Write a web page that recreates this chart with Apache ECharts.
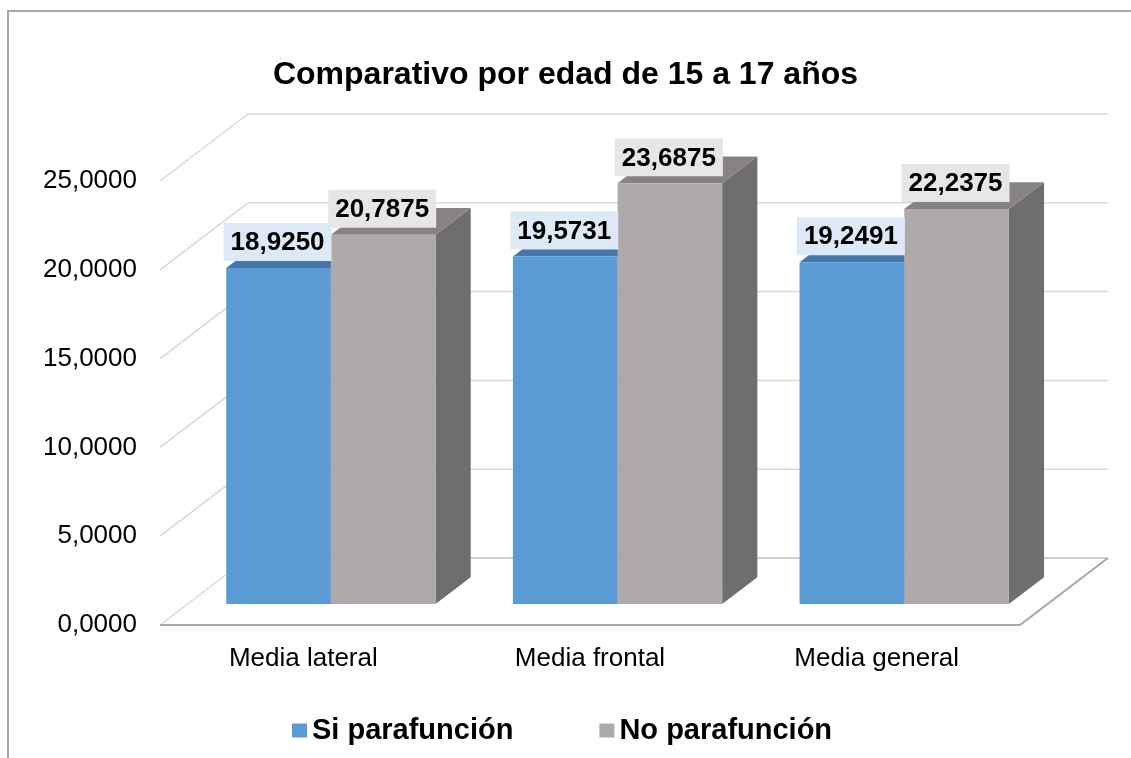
<!DOCTYPE html>
<html>
<head>
<meta charset="utf-8">
<script src="https://cdn.jsdelivr.net/npm/echarts@6/dist/echarts.min.js"></script>
<style>
html,body{margin:0;padding:0;background:#fff;}
#chart{width:1131px;height:758px;}
</style>
</head>
<body>
<div id="chart"></div>
<script>
const categories = ['Media lateral', 'Media frontal', 'Media general'];
const siValues = [18.9250, 19.5731, 19.2491];
const noValues = [20.7875, 23.6875, 22.2375];
const seriesNames = ['Si parafunción', 'No parafunción'];
const yTicks = [0, 5, 10, 15, 20, 25];
const titleText = 'Comparativo por edad de 15 a 17 años';

const FONT = '"Liberation Sans", Arial, sans-serif';
// oblique depth vector (pixels) for the full depth of the plot box
const DEPTH = [88, -67];
const BAR_T0 = 0.313;   // depth fraction of bar front faces
const BAR_DT = 0.40;    // depth fraction of bar thickness
const BAR_GAP = 0.135;  // in category units
const BAR_W = 0.365;

const fmt = v => v.toFixed(4).replace('.', ',');

function shift(p, t) { return [p[0] + DEPTH[0] * t, p[1] + DEPTH[1] * t]; }

function frameRender(params, api) {
  const children = [];
  const n = categories.length;
  yTicks.forEach(v => {
    const a = api.coord([0, v]);
    const b = api.coord([n, v]);
    if (v === 0) {
      const pts = [a, b, shift(b, 1), shift(a, 1)];
      children.push({ type: 'polygon', shape: { points: pts }, style: { fill: '#fff', stroke: null } });
      children.push({ type: 'line', shape: { x1: a[0], y1: a[1], x2: shift(a,1)[0], y2: shift(a,1)[1] }, style: { stroke: '#d9d9d9', lineWidth: 1.5 } });
      children.push({ type: 'line', shape: { x1: shift(a,1)[0], y1: shift(a,1)[1], x2: shift(b,1)[0], y2: shift(b,1)[1] }, style: { stroke: '#bfbfbf', lineWidth: 1.5 } });
      children.push({ type: 'line', shape: { x1: a[0], y1: a[1], x2: b[0], y2: b[1] }, style: { stroke: '#a6a6a6', lineWidth: 2 } });
      children.push({ type: 'line', shape: { x1: b[0], y1: b[1], x2: shift(b,1)[0], y2: shift(b,1)[1] }, style: { stroke: '#a6a6a6', lineWidth: 2 } });
    } else {
      const a1 = shift(a, 1), b1 = shift(b, 1);
      children.push({ type: 'line', shape: { x1: a[0], y1: a[1], x2: a1[0], y2: a1[1] }, style: { stroke: '#d9d9d9', lineWidth: 1.5 } });
      children.push({ type: 'line', shape: { x1: a1[0], y1: a1[1], x2: b1[0], y2: b1[1] }, style: { stroke: '#d9d9d9', lineWidth: 1.5 } });
    }
  });
  return { type: 'group', children };
}

function makeBarRender(sIdx, colors, labelBg) {
  return function (params, api) {
    const i = api.value(0);
    const v = api.value(1);
    const x0 = i + BAR_GAP + sIdx * BAR_W;
    const x1 = x0 + BAR_W;
    const t0 = BAR_T0, t1 = BAR_T0 + BAR_DT;
    const b0 = shift(api.coord([x0, 0]), t0);
    const b1 = shift(api.coord([x1, 0]), t0);
    const u0 = shift(api.coord([x0, v]), t0);
    const u1 = shift(api.coord([x1, v]), t0);
    const bb1 = shift(api.coord([x1, 0]), t1);
    const ub0 = shift(api.coord([x0, v]), t1);
    const ub1 = shift(api.coord([x1, v]), t1);
    return {
      type: 'group',
      children: [
        { type: 'polygon', shape: { points: [b1, bb1, ub1, u1] }, style: { fill: colors.side } },
        { type: 'polygon', shape: { points: [u0, u1, ub1, ub0] }, style: { fill: colors.top } },
        { type: 'polygon', shape: { points: [b0, b1, u1, u0] }, style: { fill: colors.front } },
        {
          type: 'text', z2: 100,
          style: {
            text: fmt(v), x: (u0[0] + u1[0]) / 2 - 1, y: u0[1] - 7,
            align: 'center', verticalAlign: 'bottom',
            font: 'bold 26px ' + FONT, fill: '#000',
            backgroundColor: labelBg, padding: [7, 7, 5, 7]
          }
        }
      ]
    };
  };
}

const siColors = { front: '#5b9bd5', top: '#4576a8', side: '#41719c' };
const noColors = { front: '#aeaaaa', top: '#878383', side: '#706d6d' };

const chart = echarts.init(document.getElementById('chart'));
chart.setOption({
  animation: false,
  backgroundColor: '#fff',
  title: {
    text: titleText, left: 'center', top: 54,
    textStyle: { fontFamily: FONT, fontSize: 32, fontWeight: 'bold', color: '#000' }
  },
  graphic: [{
    type: 'rect', shape: { x: 8, y: 11, width: 1300, height: 900 },
    style: { fill: null, stroke: '#a6a6a6', lineWidth: 2 }, z: -1
  }],
  legend: {
    data: seriesNames, left: 287, top: 711, icon: 'rect',
    itemWidth: 15, itemHeight: 14, itemGap: 86,
    textStyle: { fontFamily: FONT, fontSize: 29, fontWeight: 'bold', color: '#000' }
  },
  grid: { left: 160, right: 111, top: 181, bottom: 133 },
  xAxis: [
    {
      type: 'category', data: categories, boundaryGap: true,
      axisLine: { show: false }, axisTick: { show: false },
      axisLabel: { fontFamily: FONT, fontSize: 26, color: '#000', margin: 21 }
    },
    { type: 'value', min: 0, max: categories.length, show: false }
  ],
  yAxis: {
    type: 'value', min: 0, max: 25, interval: 5,
    axisLine: { show: false }, axisTick: { show: false }, splitLine: { show: false },
    axisLabel: { fontFamily: FONT, fontSize: 26, color: '#000', margin: 23, formatter: fmt, padding: [4, 0, 0, 0] }
  },
  series: [
    {
      type: 'custom', name: '_frame', xAxisIndex: 1, yAxisIndex: 0, z: 1,
      renderItem: frameRender, data: [[0, 0]], clip: false, silent: true
    },
    {
      type: 'custom', name: seriesNames[0], xAxisIndex: 1, yAxisIndex: 0, z: 2,
      itemStyle: { color: siColors.front },
      renderItem: makeBarRender(0, siColors, '#dde9f6'),
      data: siValues.map((v, i) => [i, v]), clip: false
    },
    {
      type: 'custom', name: seriesNames[1], xAxisIndex: 1, yAxisIndex: 0, z: 2,
      itemStyle: { color: noColors.front },
      renderItem: makeBarRender(1, noColors, '#e7e6e6'),
      data: noValues.map((v, i) => [i, v]), clip: false
    }
  ]
});
</script>
</body>
</html>
